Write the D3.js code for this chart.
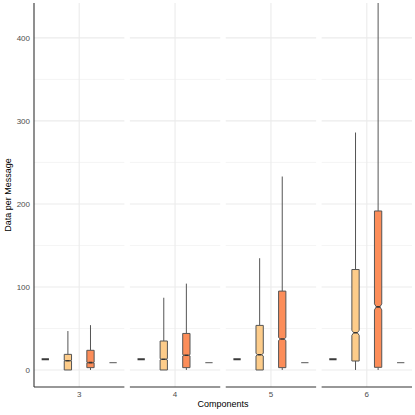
<!DOCTYPE html>
<html lang="en">
<head>
<meta charset="UTF-8">
<script src="https://cdn.jsdelivr.net/npm/d3@7/dist/d3.min.js"></script>
<style>
  body { margin: 0; background: #fff; }
  text { font-family: "Liberation Sans", Arial, sans-serif; }
  .grid line { stroke: #ebebeb; }
  .tick-label { font-size: 8px; fill: #4d4d4d; }
  .axis-title { font-size: 9px; fill: #000; }
</style>
</head>
<body>
<script>
// facets (number of components)
var components = ["3", "4", "5", "6"];
var groups = ["g1", "g2", "g3", "g4"];
var yTicks = [0, 100, 200, 300, 400];
var yMinor = [50, 150, 250, 350];

// box stats per group, one value per facet
var whiskerLo = {
  g1: [12.9, 12.9, 12.9, 12.9],
  g2: [0, 0, 0, 0],
  g3: [0, 0, 0, 0],
  g4: [8.8, 8.8, 8.8, 8.8]
};
var q1 = {
  g1: [12.9, 12.9, 12.9, 12.9],
  g2: [0, 0, 0, 10.8],
  g3: [2.8, 2.8, 2.8, 3.2],
  g4: [8.8, 8.8, 8.8, 8.8]
};
var median = {
  g1: [12.9, 12.9, 12.9, 12.9],
  g2: [11.2, 12.9, 18.4, 44.8],
  g3: [8.8, 17.7, 37.3, 76],
  g4: [8.8, 8.8, 8.8, 8.8]
};
var q3 = {
  g1: [12.9, 12.9, 12.9, 12.9],
  g2: [18.8, 34.9, 53.7, 121],
  g3: [23.7, 44, 95, 191.5],
  g4: [8.8, 8.8, 8.8, 8.8]
};
var whiskerHi = {
  g1: [12.9, 12.9, 12.9, 12.9],
  g2: [46.9, 87, 134.6, 286],
  g3: [54, 104, 233, 470],
  g4: [8.8, 8.8, 8.8, 8.8]
};
// half height of the notch around the median
var notch = {
  g1: [0, 0, 0, 0],
  g2: [0.5, 0.8, 1.5, 3],
  g3: [0.5, 0.8, 1.8, 3.6],
  g4: [0, 0, 0, 0]
};
var fills = { g1: "#3a3a3a", g2: "#fdcc8a", g3: "#fc8d59", g4: "#777777" };

var width = 415, height = 415;
var plotLeft = 34, plotRight = 412, plotTop = 3, plotBottom = 387;
var gap = 5.5;
var panelW = (plotRight - plotLeft - gap * (components.length - 1)) / components.length;

var svg = d3.select("body").append("svg")
  .attr("width", width)
  .attr("height", height);

var y = d3.scaleLinear().domain([-20.5, 442]).range([plotBottom, plotTop]);
var xIn = d3.scaleBand().domain(groups).range([0, panelW]).padding(0);
var boxW = 7.3;

var defs = svg.append("defs");
defs.append("clipPath").attr("id", "clip")
  .append("rect").attr("x", 0).attr("y", plotTop).attr("width", panelW).attr("height", plotBottom - plotTop);

components.forEach(function(c, i) {
  var x0 = plotLeft + i * (panelW + gap);
  var g = svg.append("g").attr("transform", "translate(" + x0 + ",0)");

  // grid
  var grid = g.append("g").attr("class", "grid");
  grid.selectAll(".minor").data(yMinor).enter().append("line")
    .attr("x1", 0).attr("x2", panelW)
    .attr("y1", function(d) { return y(d); }).attr("y2", function(d) { return y(d); })
    .attr("stroke-width", 0.55);
  grid.selectAll(".major").data(yTicks).enter().append("line")
    .attr("x1", 0).attr("x2", panelW)
    .attr("y1", function(d) { return y(d); }).attr("y2", function(d) { return y(d); })
    .attr("stroke-width", 1.1);
  grid.append("line")
    .attr("x1", panelW / 2).attr("x2", panelW / 2)
    .attr("y1", plotTop).attr("y2", plotBottom)
    .attr("stroke-width", 1.1);

  var marks = g.append("g").attr("clip-path", "url(#clip)");

  groups.forEach(function(k) {
    var cx = xIn(k) + xIn.bandwidth() / 2;
    var xl = cx - boxW / 2, xr = cx + boxW / 2;
    var lo = whiskerLo[k][i], a = q1[k][i], m = median[k][i], b = q3[k][i], hi = whiskerHi[k][i];

    if (k === "g1" || k === "g4") {
      // collapsed boxes: a single line
      marks.append("line")
        .attr("x1", xl).attr("x2", xr)
        .attr("y1", y(m)).attr("y2", y(m))
        .attr("stroke", fills[k])
        .attr("stroke-width", k === "g1" ? 2 : 1.3);
      return;
    }

    // whiskers
    marks.append("line")
      .attr("x1", cx).attr("x2", cx)
      .attr("y1", y(b)).attr("y2", y(hi))
      .attr("stroke", "#555").attr("stroke-width", 1);
    marks.append("line")
      .attr("x1", cx).attr("x2", cx)
      .attr("y1", y(a)).attr("y2", y(lo))
      .attr("stroke", "#555").attr("stroke-width", 1);

    // notched box
    var n = notch[k][i];
    var ind = boxW * 0.25;
    var pts = [
      [xl, y(b)], [xl, y(m + n)], [xl + ind, y(m)], [xl, y(m - n)], [xl, y(a)],
      [xr, y(a)], [xr, y(m - n)], [xr - ind, y(m)], [xr, y(m + n)], [xr, y(b)]
    ];
    marks.append("path")
      .attr("d", d3.line()(pts) + "Z")
      .attr("fill", fills[k])
      .attr("stroke", "#555")
      .attr("stroke-width", 1);
    marks.append("line")
      .attr("x1", xl + ind).attr("x2", xr - ind)
      .attr("y1", y(m)).attr("y2", y(m))
      .attr("stroke", "#333").attr("stroke-width", 1.6);
  });

  // bottom axis line per panel
  g.append("line")
    .attr("x1", 0).attr("x2", panelW)
    .attr("y1", plotBottom).attr("y2", plotBottom)
    .attr("stroke", "#333").attr("stroke-width", 1.1);

  g.append("text")
    .attr("class", "tick-label")
    .attr("x", panelW / 2).attr("y", 397)
    .attr("text-anchor", "middle")
    .text(c);
});

// y axis
svg.append("line")
  .attr("x1", plotLeft).attr("x2", plotLeft)
  .attr("y1", plotTop).attr("y2", plotBottom)
  .attr("stroke", "#333").attr("stroke-width", 1.1);

svg.selectAll(".ytick").data(yTicks).enter().append("text")
  .attr("class", "tick-label")
  .attr("x", 30).attr("y", function(d) { return y(d); })
  .attr("dy", "0.35em")
  .attr("text-anchor", "end")
  .text(function(d) { return d; });

svg.append("text")
  .attr("class", "axis-title")
  .attr("x", plotLeft + (plotRight - plotLeft) / 2).attr("y", 407)
  .attr("text-anchor", "middle")
  .text("Components");

svg.append("text")
  .attr("class", "axis-title")
  .attr("transform", "translate(11," + ((plotTop + plotBottom) / 2) + ") rotate(-90)")
  .attr("text-anchor", "middle")
  .text("Data per Message");
</script>
</body>
</html>
